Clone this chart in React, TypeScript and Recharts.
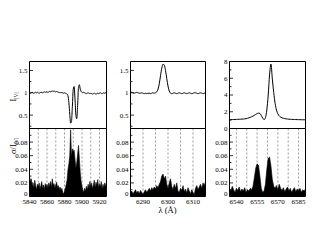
import React from 'react';
import { ComposedChart, Line, Area, XAxis, YAxis, CartesianGrid, Label } from 'recharts';

const W = 317;
const H = 245;
const FONT = '"Liberation Serif", "DejaVu Serif", serif';

// Na D region, sampled every 1 Å from 5840
const naStart = 5840;
const naStep = 1;
const naFlux = [
  1.00, 0.99, 1.00, 1.01, 1.00, 0.99, 1.00, 1.01, 1.00, 1.01,
  1.00, 0.99, 1.00, 1.01, 1.01, 1.00, 1.01, 1.02, 1.01, 1.02,
  1.02, 1.01, 1.02, 1.03, 1.02, 1.03, 1.04, 1.03, 1.04, 1.03,
  1.02, 1.03, 1.02, 1.01, 1.01, 1.00, 1.01, 1.00, 1.00, 0.99,
  1.00, 0.99, 0.98, 0.97, 0.93, 0.78, 0.52, 0.32, 0.36, 0.70,
  1.08, 1.14, 0.86, 0.50, 0.42, 0.72, 1.12, 1.18, 1.08, 1.03,
  1.01, 1.00, 1.01, 1.00, 0.99, 0.98, 0.99, 1.00, 0.99, 0.98,
  0.99, 0.98, 0.97, 0.98, 0.99, 0.98, 0.97, 0.98, 0.99, 0.98,
  0.99, 1.00, 0.99, 0.98, 0.99, 1.00, 0.99, 1.00, 0.99,
];
const naSigma = [
  0.030, 0.022, 0.026, 0.015, 0.020, 0.012, 0.024, 0.016, 0.010, 0.018,
  0.014, 0.020, 0.011, 0.016, 0.022, 0.012, 0.017, 0.010, 0.019, 0.014,
  0.018, 0.012, 0.020, 0.015, 0.022, 0.013, 0.026, 0.016, 0.019, 0.012,
  0.017, 0.021, 0.013, 0.016, 0.010, 0.014, 0.009, 0.012, 0.006, 0.004,
  0.008, 0.012, 0.018, 0.025, 0.040, 0.048, 0.060, 0.098, 0.058, 0.070,
  0.066, 0.068, 0.055, 0.042, 0.050, 0.062, 0.075, 0.055, 0.035, 0.022,
  0.015, 0.010, 0.006, 0.012, 0.008, 0.015, 0.010, 0.018, 0.012, 0.022,
  0.014, 0.020, 0.011, 0.017, 0.024, 0.013, 0.021, 0.016, 0.025, 0.012,
  0.019, 0.014, 0.022, 0.011, 0.018, 0.013, 0.020, 0.015, 0.022,
];
const naXTicks = [5840, 5850, 5860, 5870, 5880, 5890, 5900, 5910, 5920];
const naXLabels = [5840, 5860, 5880, 5900, 5920];

// [O I] 6300 region, sampled every 0.5 Å from 6285
const oiStart = 6285;
const oiStep = 0.5;
const oiFlux = [
  1.00, 1.01, 1.00, 0.99, 1.00, 1.01, 1.00, 0.99, 0.99, 1.00,
  0.99, 0.98, 0.99, 0.98, 0.99, 0.99, 0.98, 0.99, 1.00, 0.99,
  1.00, 1.02, 1.08, 1.20, 1.38, 1.55, 1.64, 1.62, 1.50, 1.32,
  1.15, 1.04, 0.99, 0.98, 0.99, 1.00, 0.99, 0.98, 0.99, 1.00,
  0.99, 0.98, 0.99, 1.00, 0.99, 0.98, 0.99, 1.00, 0.99, 0.98,
  0.99, 1.00, 1.00, 0.99, 0.98, 0.99, 1.00, 0.99, 0.98, 0.99,
  1.00,
];
const oiSigma = [
  0.006, 0.008, 0.004, 0.007, 0.010, 0.005, 0.008, 0.004, 0.009, 0.006,
  0.003, 0.007, 0.010, 0.006, 0.009, 0.012, 0.008, 0.013, 0.010, 0.014,
  0.011, 0.016, 0.013, 0.018, 0.022, 0.030, 0.033, 0.026, 0.030, 0.018,
  0.012, 0.020, 0.026, 0.015, 0.010, 0.018, 0.012, 0.020, 0.008, 0.006,
  0.012, 0.009, 0.016, 0.007, 0.011, 0.005, 0.013, 0.008, 0.004, 0.010,
  0.006, 0.003, 0.012, 0.016, 0.010, 0.014, 0.018, 0.012, 0.020, 0.016,
  0.022,
];
const oiXTicks = [6290, 6295, 6300, 6305, 6310];
const oiXLabels = [6290, 6300, 6310];

// H-alpha region, sampled every 1 Å from 6535
const haStart = 6535;
const haStep = 1;
const haFlux = [
  1.05, 1.06, 1.07, 1.07, 1.08, 1.09, 1.10, 1.10, 1.11, 1.12,
  1.13, 1.15, 1.17, 1.22, 1.27, 1.33, 1.40, 1.48, 1.58, 1.68,
  1.78, 1.84, 1.80, 1.55, 1.25, 1.06, 1.30, 2.20, 4.00, 6.40,
  7.70, 5.90, 4.30, 3.00, 2.20, 1.75, 1.50, 1.35, 1.27, 1.22,
  1.18, 1.15, 1.13, 1.11, 1.10, 1.09, 1.08, 1.07, 1.07, 1.06,
  1.06, 1.05, 1.05, 1.04, 1.04, 1.03,
];
const haSigma = [
  0.012, 0.008, 0.015, 0.010, 0.006, 0.012, 0.009, 0.014, 0.007, 0.011,
  0.008, 0.013, 0.006, 0.010, 0.008, 0.012, 0.010, 0.015, 0.028, 0.042,
  0.048, 0.046, 0.030, 0.012, 0.006, 0.008, 0.018, 0.040, 0.056, 0.058,
  0.045, 0.025, 0.015, 0.012, 0.016, 0.010, 0.018, 0.012, 0.009, 0.013,
  0.007, 0.011, 0.014, 0.008, 0.012, 0.006, 0.010, 0.013, 0.007, 0.011,
  0.009, 0.012, 0.006, 0.010, 0.008, 0.011,
];
const haXTicks = [6540, 6547.5, 6555, 6562.5, 6570, 6577.5, 6585];
const haXLabels = [6540, 6555, 6570, 6585];

// y axes
const fluxTicks = [0.25, 0.5, 0.75, 1, 1.25, 1.5];
const fluxLabels = [0.5, 1, 1.5];
const haTicks = [0, 1, 2, 3, 4, 5, 6, 7, 8];
const haLabels = [0, 2, 4, 6, 8];
const sigmaTicks = [0, 0.01, 0.02, 0.03, 0.04, 0.05, 0.06, 0.07, 0.08, 0.09, 0.1];
const sigmaLabels = [0, 0.02, 0.04, 0.06, 0.08];

const toRows = (start: number, step: number, vals: number[]) =>
  vals.map((v, i) => ({ x: start + i * step, v }));

const has = (list: number[], v: number) => list.some(l => Math.abs(l - v) < 1e-9);

function YTick(props: any) {
  const { x, y, payload, side, labels, lift } = props;
  const major = has(labels, payload.value);
  const len = major ? 3.5 : 2;
  const dir = side === 'left' ? 1 : -1;
  // the 0 of a lower panel sits on the x labels; nudge it up a little
  const dy = lift && payload.value === 0 ? -3 : 0;
  return (
    <g>
      <line x1={x} y1={y} x2={x + dir * len} y2={y} stroke="#000" strokeWidth={0.8} />
      {side === 'left' && major && (
        <text x={x - 2} y={y + dy} dy="0.35em" textAnchor="end" fontSize={7} fontFamily={FONT} fill="#000">
          {String(payload.value)}
        </text>
      )}
    </g>
  );
}

function XTick(props: any) {
  const { x, y, payload, labels } = props;
  if (!has(labels, payload.value)) return <g />;
  return (
    <text x={x} y={y} dy={7.5} textAnchor="middle" fontSize={7} fontFamily={FONT} fill="#000">
      {String(payload.value)}
    </text>
  );
}

interface PanelProps {
  box: [number, number, number, number]; // left, right, top, bottom of the plot frame
  rows: { x: number; v: number }[];
  xDomain: [number, number];
  xTicks: number[];
  xLabels?: number[];
  yDomain: [number, number];
  yTicks: number[];
  yLabels: number[];
  filled?: boolean;
  yTitle?: React.ReactNode;
  xTitle?: React.ReactNode;
}

// axes need a size > 0 to be drawn, so each one gets 1px and the margins give it back
function Panel({ box, rows, xDomain, xTicks, xLabels, yDomain, yTicks, yLabels, filled, yTitle, xTitle }: PanelProps) {
  const [l, r, t, b] = box;
  const frame = { stroke: '#000', strokeWidth: 1 };
  return (
    <ComposedChart
      width={W}
      height={H}
      data={rows}
      margin={{ left: l - 1, right: W - r - 1, top: t - 1, bottom: H - b - 1 }}
      style={{ position: 'absolute', left: 0, top: 0 }}
    >
      <CartesianGrid horizontal={false} stroke="#808080" strokeDasharray="2 2" strokeWidth={0.8} />
      <XAxis
        dataKey="x"
        type="number"
        domain={xDomain}
        ticks={xTicks}
        interval={0}
        allowDataOverflow
        height={1}
        tickSize={0}
        tickMargin={0}
        tickLine={false}
        stroke="#000"
        axisLine={frame}
        tick={xLabels ? <XTick labels={xLabels} /> : false}
      >
        {xTitle && <Label content={() => xTitle} />}
      </XAxis>
      <XAxis
        xAxisId="top"
        orientation="top"
        type="number"
        domain={xDomain}
        height={1}
        tickLine={false}
        tick={false}
        stroke="#000"
        axisLine={frame}
      />
      <YAxis
        type="number"
        domain={yDomain}
        ticks={yTicks}
        interval={0}
        allowDataOverflow
        width={1}
        tickSize={0}
        tickMargin={0}
        tickLine={false}
        stroke="#000"
        axisLine={frame}
        tick={<YTick side="left" labels={yLabels} lift={filled} />}
      >
        {yTitle && <Label content={() => yTitle} />}
      </YAxis>
      <YAxis
        yAxisId="right"
        orientation="right"
        type="number"
        domain={yDomain}
        ticks={yTicks}
        interval={0}
        width={1}
        tickSize={0}
        tickMargin={0}
        tickLine={false}
        stroke="#000"
        axisLine={frame}
        tick={<YTick side="right" labels={yLabels} />}
      />
      {filled ? (
        <Area
          dataKey="v"
          type="linear"
          baseValue={0}
          stroke="#000"
          strokeWidth={0.6}
          fill="#000"
          fillOpacity={1}
          dot={false}
          activeDot={false}
          isAnimationActive={false}
        />
      ) : (
        <Line
          dataKey="v"
          type="monotone"
          stroke="#000"
          strokeWidth={1}
          dot={false}
          activeDot={false}
          isAnimationActive={false}
        />
      )}
    </ComposedChart>
  );
}

const fluxTitle = (
  <text transform="translate(15.5,97) rotate(-90)" textAnchor="middle" fontFamily={FONT} fontSize={8.5} fill="#000">
    I<tspan fontSize={5.5} dy={2.5}>|V|</tspan>
  </text>
);

const sigmaTitle = (
  <text transform="translate(15.5,146) rotate(-90)" textAnchor="middle" fontFamily={FONT} fontSize={8.5} fill="#000">
    σ/I<tspan fontSize={5.5} dy={2.5}>|V|</tspan>
  </text>
);

const lambdaTitle = (
  <text x={167.5} y={213} textAnchor="middle" fontFamily={FONT} fontSize={8.5} fill="#000">
    λ (Å)
  </text>
);

export default function App() {
  const naTop = toRows(naStart, naStep, naFlux);
  const naBot = toRows(naStart, naStep, naSigma);
  const oiTop = toRows(oiStart, oiStep, oiFlux);
  const oiBot = toRows(oiStart, oiStep, oiSigma);
  const haTop = toRows(haStart, haStep, haFlux);
  const haBot = toRows(haStart, haStep, haSigma);

  return (
    <div style={{ position: 'absolute', left: 0, top: 0, width: W, height: H, background: '#fff' }}>
      <Panel box={[29.5, 106.5, 61.5, 128.5]} rows={naTop} xDomain={[5840, 5928]} xTicks={naXTicks}
        yDomain={[0.2, 1.7]} yTicks={fluxTicks} yLabels={fluxLabels} yTitle={fluxTitle} />
      <Panel box={[29.5, 106.5, 128.5, 196.5]} rows={naBot} xDomain={[5840, 5928]} xTicks={naXTicks} xLabels={naXLabels}
        yDomain={[0, 0.1]} yTicks={sigmaTicks} yLabels={sigmaLabels} filled yTitle={sigmaTitle} />

      <Panel box={[130.5, 205.5, 61.5, 128.5]} rows={oiTop} xDomain={[6285, 6315]} xTicks={oiXTicks}
        yDomain={[0.2, 1.7]} yTicks={fluxTicks} yLabels={fluxLabels} />
      <Panel box={[130.5, 205.5, 128.5, 196.5]} rows={oiBot} xDomain={[6285, 6315]} xTicks={oiXTicks} xLabels={oiXLabels}
        yDomain={[0, 0.1]} yTicks={sigmaTicks} yLabels={sigmaLabels} filled xTitle={lambdaTitle} />

      <Panel box={[229.5, 305.5, 61.5, 128.5]} rows={haTop} xDomain={[6535, 6590]} xTicks={haXTicks}
        yDomain={[0, 8]} yTicks={haTicks} yLabels={haLabels} />
      <Panel box={[229.5, 305.5, 128.5, 196.5]} rows={haBot} xDomain={[6535, 6590]} xTicks={haXTicks} xLabels={haXLabels}
        yDomain={[0, 0.1]} yTicks={sigmaTicks} yLabels={sigmaLabels} filled />
    </div>
  );
}
